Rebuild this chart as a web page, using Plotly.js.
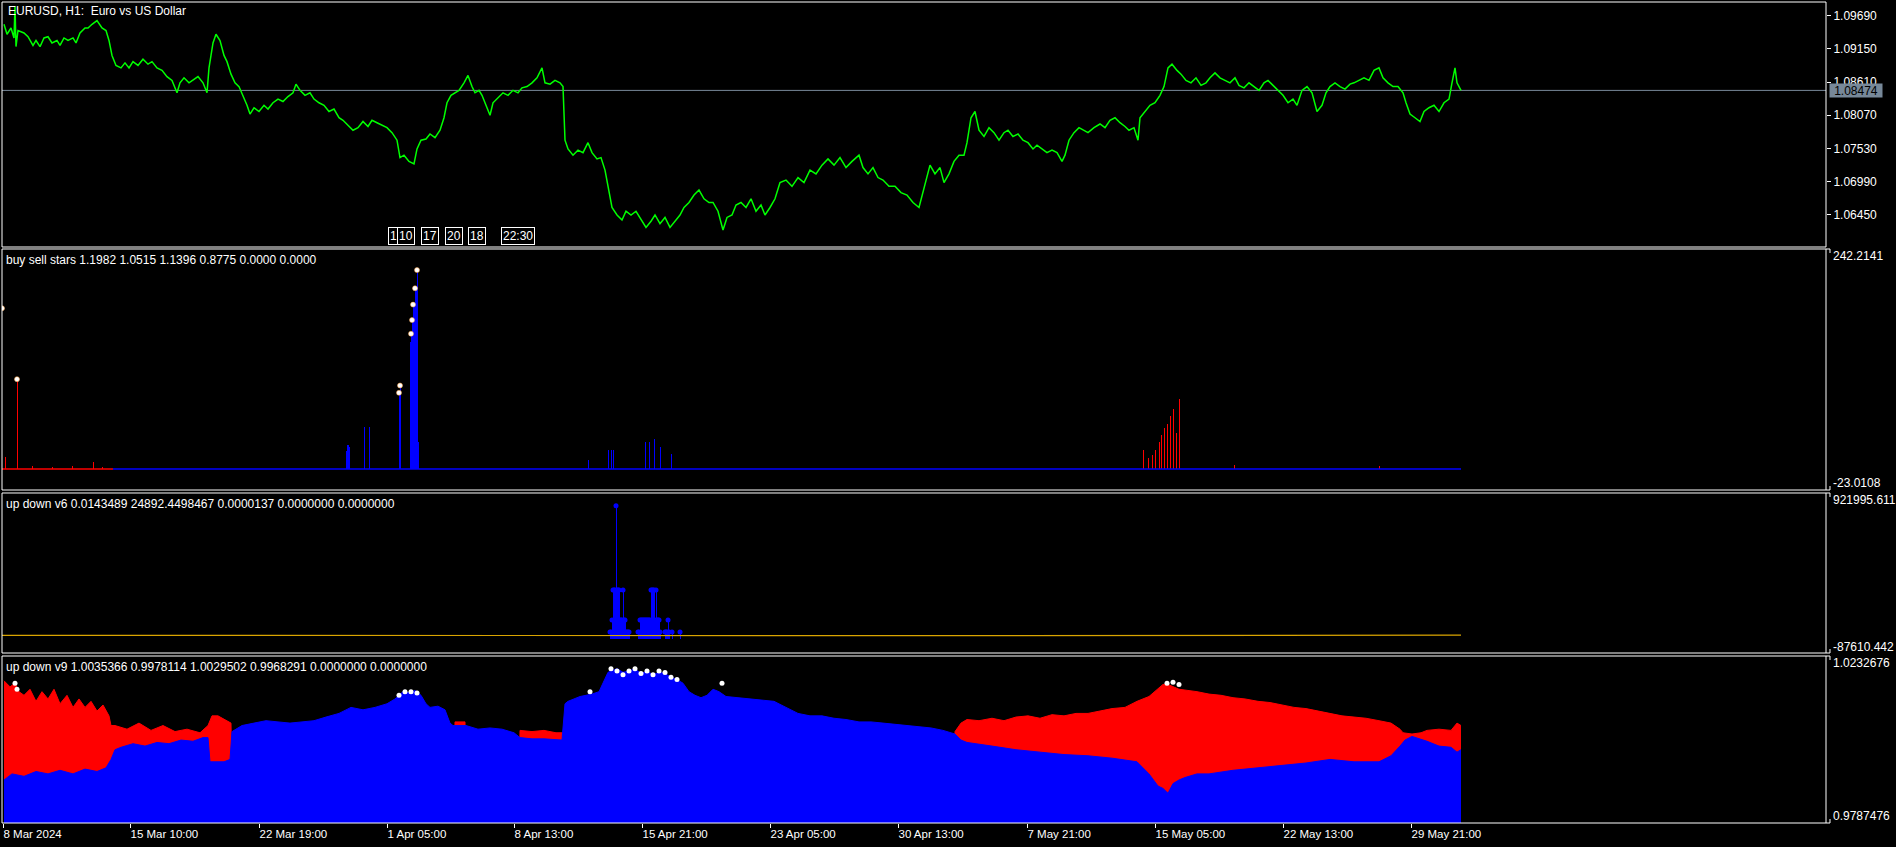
<!DOCTYPE html>
<html><head><meta charset="utf-8">
<script src="https://cdn.plot.ly/plotly-3.0.1.min.js"></script>
<style>html,body{margin:0;padding:0;background:#000;}#chart{width:1896px;height:847px;}</style>
</head><body><div id="chart"></div>
<script>
// ---------- time axis (bar index -> label) ----------
const tickIdx = [1,128,257,385,512,640,768,896,1025,1153,1281,1409];
const tickLabels = ["8 Mar 2024","15 Mar 10:00","22 Mar 19:00","1 Apr 05:00","8 Apr 13:00","15 Apr 21:00","23 Apr 05:00","30 Apr 13:00","7 May 21:00","15 May 05:00","22 May 13:00","29 May 21:00"];

// ---------- panel 1 : EURUSD H1 close (bar index, price) ----------
const priceIdx = [2,5,9,12,13,14,16,22,26,31,34,38,42,46,50,55,58,62,66,71,74,78,83,86,90,95,100,104,107,110,
 114,119,123,127,131,136,141,146,150,155,160,165,170,175,178,182,187,191,196,201,205,207,211,214,218,222,225,229,233,237,
 241,245,248,252,257,262,266,271,276,281,286,291,294,298,303,308,312,317,322,327,332,337,341,346,351,356,361,366,370,375,
 380,385,390,395,398,402,407,412,415,419,424,428,433,438,442,445,449,453,457,462,466,470,473,477,480,484,488,491,496,501,
 506,511,516,520,525,530,535,540,543,548,553,558,561,563,566,571,576,581,586,590,595,599,603,606,610,615,620,624,629,634,
 639,644,649,653,658,663,668,673,678,682,687,692,697,702,707,711,716,721,725,730,734,739,744,749,754,759,763,768,773,778,
 784,790,796,802,808,814,820,826,832,838,844,850,857,861,866,871,876,881,887,893,899,905,911,917,921,924,928,933,938,942,
 947,952,957,962,965,969,973,977,982,987,992,997,1002,1006,1011,1016,1021,1026,1031,1035,1040,1045,1050,1055,1060,1063,1067,1072,1077,1081,
 1086,1092,1098,1103,1108,1113,1118,1123,1127,1132,1136,1138,1143,1148,1153,1158,1162,1166,1170,1175,1179,1184,1189,1194,1199,1204,1208,1213,1218,1223,
 1228,1233,1237,1242,1247,1252,1257,1262,1266,1271,1276,1281,1286,1291,1295,1300,1305,1310,1315,1320,1324,1328,1333,1338,1343,1348,1352,1357,1362,1367,
 1372,1377,1381,1386,1391,1396,1401,1404,1408,1413,1418,1422,1427,1432,1437,1442,1447,1450,1453,1455,1459];
const priceVal = [1.09548,1.09386,1.09488,1.09326,1.09841,1.09186,1.09447,1.09407,1.09346,1.09204,1.09285,1.09184,1.09326,1.09346,1.09245,1.09285,1.09204,1.09326,1.09285,1.09326,1.09245,1.09407,1.09488,1.09488,1.09548,1.09609,1.09488,1.09447,1.09285,1.09042,
 1.08880,1.08840,1.08921,1.08840,1.08941,1.08880,1.08981,1.08900,1.08941,1.08840,1.08799,1.08698,1.08637,1.08435,1.08597,1.08678,1.08597,1.08637,1.08698,1.08597,1.08435,1.08840,1.09245,1.09386,1.09285,1.09042,1.08941,1.08738,1.08597,1.08536,
 1.08394,1.08232,1.08090,1.08192,1.08131,1.08232,1.08171,1.08273,1.08333,1.08293,1.08374,1.08435,1.08576,1.08475,1.08394,1.08435,1.08333,1.08273,1.08232,1.08131,1.08171,1.08030,1.07989,1.07908,1.07827,1.07868,1.07969,1.07888,1.07989,1.07949,
 1.07908,1.07868,1.07787,1.07665,1.07382,1.07422,1.07321,1.07280,1.07523,1.07665,1.07685,1.07766,1.07706,1.07827,1.08030,1.08273,1.08394,1.08435,1.08475,1.08597,1.08718,1.08536,1.08435,1.08475,1.08394,1.08232,1.08070,1.08273,1.08354,1.08435,
 1.08394,1.08475,1.08435,1.08516,1.08536,1.08597,1.08678,1.08840,1.08597,1.08576,1.08637,1.08597,1.08536,1.07665,1.07523,1.07422,1.07503,1.07463,1.07625,1.07463,1.07361,1.07382,1.07179,1.06916,1.06572,1.06450,1.06369,1.06511,1.06450,1.06511,
 1.06369,1.06248,1.06349,1.06450,1.06308,1.06410,1.06248,1.06349,1.06450,1.06572,1.06653,1.06774,1.06855,1.06713,1.06653,1.06653,1.06511,1.06207,1.06410,1.06450,1.06612,1.06653,1.06572,1.06713,1.06511,1.06612,1.06450,1.06572,1.06713,1.06976,
 1.07017,1.06916,1.07058,1.06976,1.07179,1.07118,1.07260,1.07361,1.07260,1.07382,1.07220,1.07321,1.07422,1.07220,1.07118,1.07220,1.07058,1.07017,1.06916,1.06916,1.06814,1.06774,1.06653,1.06572,1.06814,1.07017,1.07260,1.07118,1.07220,1.06976,
 1.07118,1.07321,1.07422,1.07422,1.07625,1.08030,1.08131,1.07827,1.07726,1.07868,1.07787,1.07665,1.07787,1.07827,1.07726,1.07766,1.07665,1.07625,1.07523,1.07584,1.07523,1.07463,1.07503,1.07463,1.07321,1.07422,1.07665,1.07787,1.07868,1.07827,
 1.07787,1.07868,1.07928,1.07868,1.07989,1.08030,1.07949,1.07888,1.07827,1.07868,1.07665,1.08030,1.08131,1.08232,1.08273,1.08394,1.08536,1.08840,1.08900,1.08799,1.08738,1.08637,1.08597,1.08678,1.08556,1.08597,1.08678,1.08759,1.08678,1.08637,
 1.08597,1.08678,1.08556,1.08516,1.08597,1.08536,1.08475,1.08597,1.08637,1.08556,1.08475,1.08394,1.08273,1.08333,1.08232,1.08475,1.08536,1.08435,1.08131,1.08232,1.08435,1.08536,1.08597,1.08536,1.08495,1.08576,1.08597,1.08637,1.08678,1.08637,
 1.08799,1.08840,1.08678,1.08597,1.08536,1.08536,1.08435,1.08273,1.08090,1.08030,1.07969,1.08131,1.08192,1.08232,1.08131,1.08273,1.08333,1.08597,1.08840,1.08597,1.08474];
const priceTicks = [1.06450,1.06990,1.07530,1.08070,1.08610,1.09150,1.09690];
const lastPrice = 1.08474;

// ---------- panel 2 : buy sell stars ----------
const starsRedIdx = [3,15,30,50,70,91,100,1141,1146,1150,1153,1157,1159,1162,1165,1168,1171,1174,1177,1232,1377];
const starsRedVal = [13,99,3,2,3,8,2,21,12,15,21,30,37,45,50,58,66,40,77,4,3];
const starsBlueIdx = [344,345,346,347,362,367,397,398,408,409,410,411,412,413,414,415,416,586,606,609,611,643,647,652,658,669];
const starsBlueVal = [20,26,26,24,46,46,84,92,140,149,164,181,181,199,199,219,30,10,21,21,21,30,30,33,24,17];
const starsDotIdx = [0,15,397,398,409,410,411,413,415];
const starsDotVal = [177,99,84,92,149,164,181,199,219];
const starsRedBaseIdx = [0,111];
const starsBlueBaseIdx = [111,1459];

// ---------- panel 3 : up down v6 ----------
const v6LineIdx = [0,560,700,1000,1459];
const v6LineVal = [24000,22000,20000,22000,24892];
const v6BarIdx = [608,609,610,611,612,613,614,615,616,617,618,619,620,621,622,623,624,625,626,627,
 636,637,638,639,640,641,642,643,644,645,646,647,648,649,650,651,652,653,654,655,656,657,658,
 663,664,665,666,667,670,678];
const v6BarVal = [44900,44900,120620,309920,309920,309920,841850,309920,309920,309920,120620,120620,120620,309920,120620,120620,44900,44900,44900,44900,
 44900,44900,120620,120620,120620,120620,120620,120620,120620,120620,120620,120620,120620,309920,309920,309920,309920,120620,309920,120620,120620,120620,44900,
 44900,44900,44900,120620,44900,44900,44900];

// ---------- panel 4 : up down v9 ----------
const v9BlueIdx = [2,10,22,34,46,58,71,83,95,104,109,113,119,131,143,155,167,179,191,201,206,208,222,228,230,234,240,252,264,276,
 288,300,312,324,337,349,361,373,385,393,397,401,407,413,419,424,428,436,443,448,451,464,476,488,500,512,518,530,542,554,
 560,563,566,572,578,584,590,597,603,606,615,621,627,633,639,645,651,657,663,669,675,681,687,693,699,705,711,717,724,736,
 748,760,772,784,796,808,820,832,844,857,869,881,893,905,917,929,941,953,959,965,990,1014,1038,1062,1086,1110,1135,1147,1156,1161,
 1166,1171,1177,1183,1195,1207,1231,1256,1280,1304,1328,1352,1377,1389,1398,1403,1410,1419,1425,1437,1449,1455,1459];
const v9BlueVal = [0.99022,0.99184,0.99119,0.99248,0.99184,0.99280,0.99184,0.99312,0.99248,0.99345,0.99570,0.99828,0.99893,0.99989,0.99925,1.00022,0.99989,1.00086,1.00054,1.00151,1.00151,0.99506,0.99506,0.99570,1.00312,1.00376,1.00473,1.00538,1.00602,1.00570,
 1.00538,1.00570,1.00602,1.00699,1.00796,1.00957,1.00892,1.00957,1.01053,1.01182,1.01279,1.01376,1.01344,1.01408,1.01279,1.01053,1.00957,1.00989,1.00892,1.00538,1.00473,1.00473,1.00376,1.00409,1.00376,1.00280,1.00151,1.00118,1.00118,1.00086,
 1.00086,1.01053,1.01118,1.01182,1.01247,1.01279,1.01311,1.01376,1.01698,1.01892,1.01988,1.01892,1.01924,1.01988,1.01859,1.01924,1.01827,1.01892,1.01859,1.01763,1.01698,1.01602,1.01376,1.01279,1.01215,1.01279,1.01440,1.01376,1.01247,1.01215,
 1.01182,1.01150,1.01118,1.00957,1.00796,1.00731,1.00731,1.00667,1.00634,1.00570,1.00570,1.00538,1.00505,1.00473,1.00441,1.00409,1.00344,1.00247,1.00086,1.00022,0.99925,0.99828,0.99764,0.99699,0.99667,0.99603,0.99506,0.99184,0.98861,0.98797,
 0.98668,0.98926,0.99022,0.99087,0.99184,0.99184,0.99280,0.99345,0.99409,0.99474,0.99570,0.99506,0.99506,0.99667,0.99925,1.00086,1.00183,1.00118,1.00054,0.99925,0.99893,0.99764,0.99828];
const v9RedIdx = [2,8,13,17,22,28,34,40,46,52,58,65,71,77,83,89,95,101,107,109,113,125,137,149,161,173,185,198,206,210,
 216,222,228,229,230,452,453,463,464,517,518,530,542,554,561,562,952,953,959,965,977,990,1002,1014,1026,1038,1050,1062,1074,1086,
 1098,1110,1123,1135,1147,1156,1161,1166,1171,1177,1195,1207,1219,1231,1243,1256,1268,1280,1292,1304,1316,1328,1340,1352,1364,1377,1389,1398,1401,1410,
 1419,1425,1437,1449,1455,1459];
const v9RedVal = [1.01666,1.01505,1.01602,1.01376,1.01279,1.01440,1.01118,1.01376,1.01182,1.01440,1.01053,1.01279,1.00957,1.01182,1.00957,1.01118,1.00860,1.01021,1.00731,1.00473,1.00473,1.00376,1.00538,1.00344,1.00473,1.00312,1.00376,1.00280,1.00473,1.00731,
 1.00731,1.00634,1.00538,1.00538,0.99,0.99,1.00570,1.00570,0.99,0.99,1.00344,1.00312,1.00344,1.00280,1.00280,0.99,0.99,1.00312,1.00538,1.00634,1.00602,1.00667,1.00602,1.00699,1.00731,1.00667,1.00763,1.00731,1.00796,1.00796,
 1.00860,1.00925,1.00957,1.01118,1.01247,1.01440,1.01569,1.01569,1.01505,1.01440,1.01376,1.01311,1.01279,1.01215,1.01182,1.01118,1.01086,1.01021,1.00957,1.00925,1.00860,1.00796,1.00731,1.00699,1.00667,1.00602,1.00538,1.00376,1.00280,1.00247,
 1.00280,1.00344,1.00376,1.00344,1.00538,1.00473];
const v9DotIdx = [13,15,397,403,409,415,588,609,615,621,627,633,639,645,651,657,663,669,675,720,1165,1171,1177];
const v9DotVal = [1.01602,1.01442,1.01279,1.01375,1.01375,1.0134,1.01375,1.01988,1.01924,1.01828,1.01924,1.01988,1.0186,1.01924,1.01828,1.01924,1.0189,1.01762,1.01698,1.01602,1.01602,1.0163,1.0157];

// ---------- texts ----------
const titleText = "EURUSD, H1:\u00a0 Euro vs US Dollar";
const starsText = "buy sell stars 1.1982 1.0515 1.1396 0.8775 0.0000 0.0000";
const v6Text = "up down v6 0.0143489 24892.4498467 0.0000137 0.0000000 0.0000000";
const v9Text = "up down v9 1.0035366 0.9978114 1.0029502 0.9968291 0.0000000 0.0000000";
const starsRange = [-23.0108, 242.2141];
const v6Range = [-87610.442, 921995.611];
const v9Range = [0.9787476, 1.0232676];
const vlineTags = ["1","10","17","20","18","22:30"];
const vlineTagIdx = [391,404,428,452,475,516];

// ---------- build ----------
const FONT = "Liberation Sans, Arial, sans-serif";
const D1=[0.70158,1], D2=[0.4056,0.69915], D3=[0.20706,0.40195], D4=[0,0.20341];

const traces = [
 {x:priceIdx,y:priceVal,type:'scatter',mode:'lines',line:{color:'#00ff00',width:1.5},xaxis:'x',yaxis:'y'},
 {x:starsRedBaseIdx,y:[0,0],type:'scatter',mode:'lines',line:{color:'#ff0000',width:1.5},yaxis:'y2'},
 {x:starsBlueBaseIdx,y:[0,0],type:'scatter',mode:'lines',line:{color:'#0000ff',width:1.5},yaxis:'y2'},
 {x:starsRedIdx,y:starsRedVal,type:'bar',width:1,marker:{color:'#ff0000',line:{width:0}},yaxis:'y2'},
 {x:starsBlueIdx,y:starsBlueVal,type:'bar',width:1,marker:{color:'#0000ff',line:{width:0}},yaxis:'y2'},
 {x:starsDotIdx,y:starsDotVal,type:'scatter',mode:'markers',marker:{color:'#ffffff',size:5,line:{color:'#ffa040',width:0.5}},yaxis:'y2'},
 {x:v6LineIdx,y:v6LineVal,type:'scatter',mode:'lines',line:{color:'#d9a400',width:1.2},yaxis:'y3'},
 {x:v6BarIdx,y:v6BarVal,type:'bar',width:1,marker:{color:'#0000ff',line:{width:0}},yaxis:'y3'},
 {x:v6BarIdx,y:v6BarVal,type:'scatter',mode:'markers',marker:{color:'#0000ff',size:5},yaxis:'y3'},
 {x:v9RedIdx,y:v9RedVal,type:'scatter',mode:'lines',fill:'tozeroy',fillcolor:'#ff0000',line:{color:'#ff0000',width:1},yaxis:'y4'},
 {x:v9BlueIdx,y:v9BlueVal,type:'scatter',mode:'lines',fill:'tozeroy',fillcolor:'#0000ff',line:{color:'#0000ff',width:1},yaxis:'y4'},
 {x:v9DotIdx,y:v9DotVal,type:'scatter',mode:'markers',marker:{color:'#ffffff',size:5},yaxis:'y4'}
];

function frame(d){return {type:'rect',xref:'paper',yref:'paper',x0:0,x1:1,y0:d[0],y1:d[1],line:{color:'#ffffff',width:1},fillcolor:'rgba(0,0,0,0)',layer:'above'};}
// small MT5-style bracket ticks at the top and bottom of the indicator scales
const TX = 1.00219, TL = 0.00487;
function brackets(d){return [
 {type:'path',xref:'paper',yref:'paper',path:`M 1 ${d[1]} L ${TX} ${d[1]} L ${TX} ${d[1]-TL}`,line:{color:'#ffffff',width:1}},
 {type:'path',xref:'paper',yref:'paper',path:`M 1 ${d[0]} L ${TX} ${d[0]} L ${TX} ${d[0]+TL}`,line:{color:'#ffffff',width:1}}
];}
const hidden = {showgrid:false,zeroline:false,showline:false,showticklabels:false,ticks:'',anchor:'x',side:'right',fixedrange:true};

const ann = [];
function txt(t,x,y,xa,ya,extra){ann.push(Object.assign({text:t,xref:'paper',yref:'paper',x:x,y:y,xanchor:xa,yanchor:ya,showarrow:false,font:{family:FONT,size:12,color:'#ffffff'},borderpad:0},extra||{}));}
txt(titleText,0.00274,0.98904,'left','middle');
txt(starsText,0.00164,0.68575,'left','middle');
txt(v6Text,0.00164,0.38855,'left','middle');
txt(v9Text,0.00164,0.19001,'left','middle');
const RX = 1.00329;
txt(String(starsRange[1]),RX,0.69063,'left','middle');
txt(String(starsRange[0]),RX,0.41413,'left','middle');
txt(String(v6Range[1]),RX,0.39342,'left','middle');
txt(String(v6Range[0]),RX,0.21437,'left','middle');
txt(String(v9Range[1]),RX,0.19488,'left','middle');
txt(String(v9Range[0]),RX,0.00853,'left','middle');
ann.push({text:lastPrice.toFixed(5),xref:'paper',yref:'y',x:1.00164,y:lastPrice,xanchor:'left',yanchor:'middle',showarrow:false,bgcolor:'#778899',font:{family:FONT,size:12,color:'#000000'},width:52,height:13,borderpad:0});
vlineTags.forEach((t,i)=>{ann.push({text:t,xref:'x',yref:'paper',x:vlineTagIdx[i],y:0.7045,xanchor:'center',yanchor:'bottom',showarrow:false,bgcolor:'#000000',bordercolor:'#ffffff',borderwidth:1,borderpad:1,font:{family:FONT,size:12,color:'#ffffff'}});});

const layout = {
 width:1896,height:847,paper_bgcolor:'#000000',plot_bgcolor:'#000000',
 margin:{l:2,r:70,t:2,b:24,pad:0},showlegend:false,hovermode:false,
 font:{family:FONT,size:12,color:'#ffffff'},
 barmode:'overlay',bargap:0,
 xaxis:{range:[0,1824],anchor:'y4',showgrid:false,zeroline:false,showline:false,ticks:'outside',ticklen:4,tickwidth:1,tickcolor:'#ffffff',
   tickmode:'array',tickvals:tickIdx,ticktext:tickLabels,tickfont:{family:FONT,size:11.5,color:'#ffffff'},ticklabelposition:'outside right',ticklabeloverflow:'allow',fixedrange:true},
 yaxis:{domain:D1,range:[1.0593,1.0991],anchor:'x',side:'right',showgrid:false,zeroline:false,showline:false,ticks:'outside',ticklen:4,tickwidth:1,tickcolor:'#ffffff',
   tickmode:'array',tickvals:priceTicks,ticktext:priceTicks.map(v=>v.toFixed(5)),tickfont:{family:FONT,size:12,color:'#ffffff'},fixedrange:true},
 yaxis2:Object.assign({domain:D2,range:starsRange},hidden),
 yaxis3:Object.assign({domain:D3,range:v6Range},hidden),
 yaxis4:Object.assign({domain:D4,range:v9Range},hidden),
 shapes:[
  {type:'line',xref:'paper',yref:'y',x0:0,x1:1,y0:lastPrice,y1:lastPrice,line:{color:'#778899',width:1},layer:'below'},
  frame(D1),frame(D2),frame(D3),frame(D4)
 ].concat(brackets(D2),brackets(D3),brackets(D4)),
 annotations:ann
};
Plotly.newPlot('chart',traces,layout,{displayModeBar:false,staticPlot:true});
</script></body></html>
